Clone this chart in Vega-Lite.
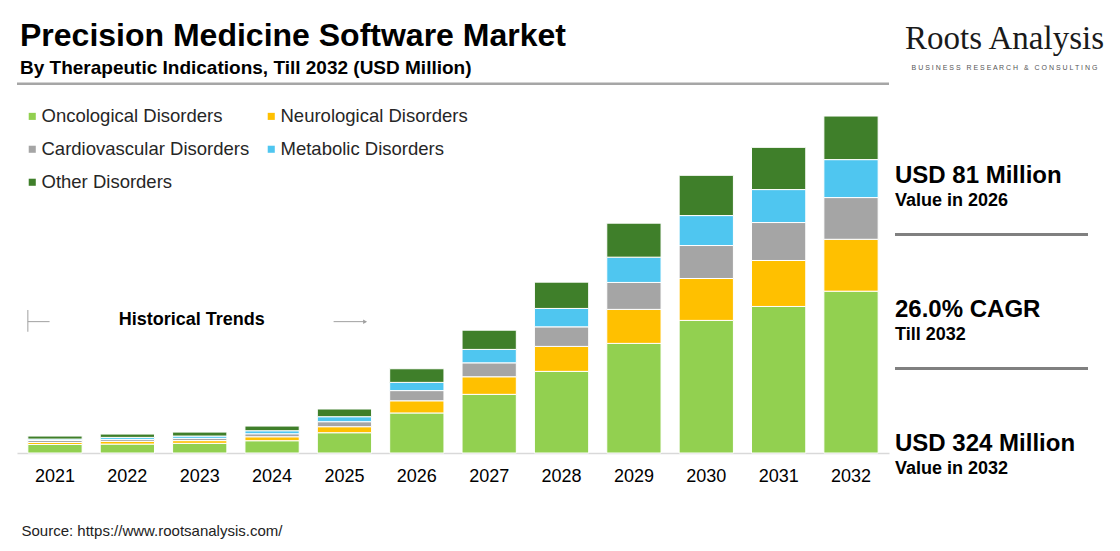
{
  "$schema": "https://vega.github.io/schema/vega-lite/v6.json",
  "autosize": {"type": "pad"},
  "padding": {"left": 15, "top": 19, "right": 15, "bottom": 3},
  "background": "white",
  "spacing": 6,
  "bounds": "flush",
  "datasets": {
    "market": [
      {"year": "2021", "segment": "Oncological Disorders", "value": 8.2},
      {"year": "2021", "segment": "Neurological Disorders", "value": 1.9},
      {"year": "2021", "segment": "Cardiovascular Disorders", "value": 1.9},
      {"year": "2021", "segment": "Metabolic Disorders", "value": 1.4},
      {"year": "2021", "segment": "Other Disorders", "value": 2.9},
      {"year": "2022", "segment": "Oncological Disorders", "value": 8.6},
      {"year": "2022", "segment": "Neurological Disorders", "value": 2.6},
      {"year": "2022", "segment": "Cardiovascular Disorders", "value": 1.9},
      {"year": "2022", "segment": "Metabolic Disorders", "value": 1.9},
      {"year": "2022", "segment": "Other Disorders", "value": 3.2},
      {"year": "2023", "segment": "Oncological Disorders", "value": 9.3},
      {"year": "2023", "segment": "Neurological Disorders", "value": 2.6},
      {"year": "2023", "segment": "Cardiovascular Disorders", "value": 2.2},
      {"year": "2023", "segment": "Metabolic Disorders", "value": 2.2},
      {"year": "2023", "segment": "Other Disorders", "value": 3.8},
      {"year": "2024", "segment": "Oncological Disorders", "value": 11.8},
      {"year": "2024", "segment": "Neurological Disorders", "value": 3.8},
      {"year": "2024", "segment": "Cardiovascular Disorders", "value": 2.9},
      {"year": "2024", "segment": "Metabolic Disorders", "value": 2.9},
      {"year": "2024", "segment": "Other Disorders", "value": 4.5},
      {"year": "2025", "segment": "Oncological Disorders", "value": 19.5},
      {"year": "2025", "segment": "Neurological Disorders", "value": 5.8},
      {"year": "2025", "segment": "Cardiovascular Disorders", "value": 4.8},
      {"year": "2025", "segment": "Metabolic Disorders", "value": 4.8},
      {"year": "2025", "segment": "Other Disorders", "value": 7.4},
      {"year": "2026", "segment": "Oncological Disorders", "value": 38.5},
      {"year": "2026", "segment": "Neurological Disorders", "value": 11.7},
      {"year": "2026", "segment": "Cardiovascular Disorders", "value": 9.8},
      {"year": "2026", "segment": "Metabolic Disorders", "value": 7.9},
      {"year": "2026", "segment": "Other Disorders", "value": 13.1},
      {"year": "2027", "segment": "Oncological Disorders", "value": 56.4},
      {"year": "2027", "segment": "Neurological Disorders", "value": 16.9},
      {"year": "2027", "segment": "Cardiovascular Disorders", "value": 13.4},
      {"year": "2027", "segment": "Metabolic Disorders", "value": 12.9},
      {"year": "2027", "segment": "Other Disorders", "value": 18.5},
      {"year": "2028", "segment": "Oncological Disorders", "value": 78.5},
      {"year": "2028", "segment": "Neurological Disorders", "value": 24.0},
      {"year": "2028", "segment": "Cardiovascular Disorders", "value": 18.8},
      {"year": "2028", "segment": "Metabolic Disorders", "value": 17.7},
      {"year": "2028", "segment": "Other Disorders", "value": 25.3},
      {"year": "2029", "segment": "Oncological Disorders", "value": 105.4},
      {"year": "2029", "segment": "Neurological Disorders", "value": 32.7},
      {"year": "2029", "segment": "Cardiovascular Disorders", "value": 25.9},
      {"year": "2029", "segment": "Metabolic Disorders", "value": 24.3},
      {"year": "2029", "segment": "Other Disorders", "value": 32.7},
      {"year": "2030", "segment": "Oncological Disorders", "value": 127.5},
      {"year": "2030", "segment": "Neurological Disorders", "value": 40.3},
      {"year": "2030", "segment": "Cardiovascular Disorders", "value": 31.7},
      {"year": "2030", "segment": "Metabolic Disorders", "value": 28.8},
      {"year": "2030", "segment": "Other Disorders", "value": 38.7},
      {"year": "2031", "segment": "Oncological Disorders", "value": 140.9},
      {"year": "2031", "segment": "Neurological Disorders", "value": 44.2},
      {"year": "2031", "segment": "Cardiovascular Disorders", "value": 36.5},
      {"year": "2031", "segment": "Metabolic Disorders", "value": 31.7},
      {"year": "2031", "segment": "Other Disorders", "value": 40.6},
      {"year": "2032", "segment": "Oncological Disorders", "value": 155.6},
      {"year": "2032", "segment": "Neurological Disorders", "value": 49.9},
      {"year": "2032", "segment": "Cardiovascular Disorders", "value": 40.1},
      {"year": "2032", "segment": "Metabolic Disorders", "value": 36.5},
      {"year": "2032", "segment": "Other Disorders", "value": 41.9}
    ],
    "summary": [
      {"headline": "USD 81 Million", "caption": "Value in 2026"},
      {"headline": "26.0% CAGR", "caption": "Till 2032"},
      {"headline": "USD 324 Million", "caption": "Value in 2032"}
    ]
  },
  "hconcat": [
    {
      "width": 872,
      "height": 364,
      "title": {
        "text": "Precision Medicine Software Market",
        "subtitle": "By Therapeutic Indications, Till 2032 (USD Million)",
        "anchor": "start",
        "frame": "group",
        "dx": 3,
        "offset": 4,
        "font": "Liberation Sans",
        "fontSize": 32,
        "fontWeight": "bold",
        "color": "#000000",
        "subtitleFont": "Liberation Sans",
        "subtitleFontSize": 19,
        "subtitleFontWeight": "bold",
        "subtitleColor": "#000000",
        "subtitlePadding": 6
      },
      "layer": [
        {
          "data": {"name": "market"},
          "transform": [
            {"calculate": "indexof(['Oncological Disorders', 'Neurological Disorders', 'Cardiovascular Disorders', 'Metabolic Disorders', 'Other Disorders'], datum.segment)", "as": "stack_rank"}
          ],
          "mark": {"type": "bar", "stroke": "white", "strokeWidth": 1},
          "encoding": {
            "x": {
              "field": "year",
              "type": "ordinal",
              "scale": {"paddingInner": 0.25, "paddingOuter": 0.15},
              "axis": {
                "labelAngle": 0,
                "labelFont": "Liberation Sans",
                "labelFontSize": 18,
                "labelColor": "#000000",
                "labelPadding": 14,
                "ticks": false,
                "domainColor": "#d9d9d9",
                "domainWidth": 1.5,
                "title": "Source: https://www.rootsanalysis.com/",
                "titleFont": "Liberation Sans",
                "titleFontSize": 15,
                "titleFontWeight": "normal",
                "titleColor": "#222222",
                "titleAnchor": "start",
                "titleAlign": "left",
                "titleX": 4,
                "titlePadding": 38
              }
            },
            "y": {
              "field": "value",
              "type": "quantitative",
              "stack": "zero",
              "scale": {"domain": [0, 350]},
              "axis": null
            },
            "order": {"field": "stack_rank", "type": "quantitative", "sort": "ascending"},
            "color": {
              "field": "segment",
              "type": "nominal",
              "scale": {
                "domain": ["Oncological Disorders", "Neurological Disorders", "Cardiovascular Disorders", "Metabolic Disorders", "Other Disorders"],
                "range": ["#92D050", "#FFC000", "#A5A5A5", "#4FC6F0", "#3F7F2A"]
              },
              "legend": {
                "title": null,
                "orient": "none",
                "legendX": 6,
                "legendY": 18,
                "direction": "horizontal",
                "columns": 2,
                "symbolType": "square",
                "symbolSize": 50,
                "symbolStrokeWidth": 0,
                "labelFont": "Liberation Sans",
                "labelFontSize": 18.5,
                "labelColor": "#262626",
                "labelOffset": 0,
                "labelLimit": 400,
                "rowPadding": 14,
                "columnPadding": 12
              }
            }
          }
        },
        {
          "data": {"values": [{}]},
          "mark": {"type": "rule", "color": "#a6a6a6", "strokeWidth": 2.5},
          "encoding": {"y": {"datum": 355, "type": "quantitative"}}
        },
        {
          "data": {"values": [{}]},
          "mark": {"type": "rule", "color": "#a0a0a0", "strokeWidth": 1},
          "encoding": {
            "x": {"datum": "2021", "type": "ordinal", "bandPosition": 0},
            "y": {"datum": 116.6, "type": "quantitative"},
            "y2": {"datum": 137.5}
          }
        },
        {
          "data": {"values": [{}]},
          "mark": {"type": "rule", "color": "#a0a0a0", "strokeWidth": 1},
          "encoding": {
            "x": {"datum": "2021", "type": "ordinal", "bandPosition": 0},
            "x2": {"datum": "2021", "bandPosition": 0.4},
            "y": {"datum": 126.3, "type": "quantitative"}
          }
        },
        {
          "data": {"values": [{}]},
          "mark": {"type": "rule", "color": "#a0a0a0", "strokeWidth": 1},
          "encoding": {
            "x": {"datum": "2025", "type": "ordinal", "bandPosition": 0.3},
            "x2": {"datum": "2025", "bandPosition": 0.9},
            "y": {"datum": 126.3, "type": "quantitative"}
          }
        },
        {
          "data": {"values": [{}]},
          "mark": {"type": "point", "shape": "triangle-right", "filled": true, "color": "#a0a0a0", "size": 20, "opacity": 1},
          "encoding": {
            "x": {"datum": "2025", "type": "ordinal", "bandPosition": 0.88},
            "y": {"datum": 126.3, "type": "quantitative"}
          }
        },
        {
          "data": {"values": [{"label": "Historical Trends"}]},
          "mark": {"type": "text", "font": "Liberation Sans", "fontSize": 18, "fontWeight": "bold", "color": "#000000", "baseline": "middle"},
          "encoding": {
            "x": {"datum": "2023", "type": "ordinal", "bandPosition": 0.355},
            "y": {"datum": 128.2, "type": "quantitative"},
            "text": {"field": "label"}
          }
        }
      ]
    },
    {
      "width": 193,
      "height": 435,
      "data": {"name": "summary"},
      "title": {
        "text": "Roots Analysis",
        "subtitle": "B U S I N E S S \u00a0 R E S E A R C H \u00a0 & \u00a0 C O N S U L T I N G",
        "anchor": "middle",
        "frame": "group",
        "dx": 13,
        "offset": 18,
        "font": "Liberation Serif",
        "fontSize": 33,
        "fontWeight": "normal",
        "color": "#1a1a1a",
        "subtitleFont": "Liberation Sans",
        "subtitleFontSize": 7,
        "subtitleColor": "#555555",
        "subtitlePadding": 8
      },
      "encoding": {
        "y": {
          "field": "headline",
          "type": "nominal",
          "sort": null,
          "axis": null,
          "scale": {"type": "band", "paddingInner": 0, "paddingOuter": 0.123, "align": 1}
        }
      },
      "layer": [
        {
          "mark": {"type": "text", "align": "left", "baseline": "middle", "dy": -12.5, "font": "Liberation Sans", "fontSize": 24, "fontWeight": "bold", "color": "#000000"},
          "encoding": {
            "x": {"datum": 0, "type": "quantitative", "scale": {"domain": [0, 1]}, "axis": null},
            "text": {"field": "headline"}
          }
        },
        {
          "mark": {"type": "text", "align": "left", "baseline": "middle", "dy": 12.5, "font": "Liberation Sans", "fontSize": 18, "fontWeight": "bold", "color": "#000000"},
          "encoding": {
            "x": {"datum": 0, "type": "quantitative", "scale": {"domain": [0, 1]}, "axis": null},
            "text": {"field": "caption"}
          }
        },
        {
          "transform": [{"filter": "datum.headline !== 'USD 324 Million'"}],
          "mark": {"type": "rule", "color": "#808080", "strokeWidth": 3},
          "encoding": {
            "y": {"field": "headline", "type": "nominal", "sort": null, "bandPosition": 0.84}
          }
        }
      ]
    }
  ],
  "config": {
    "view": {"stroke": null},
    "font": "Liberation Sans"
  }
}
